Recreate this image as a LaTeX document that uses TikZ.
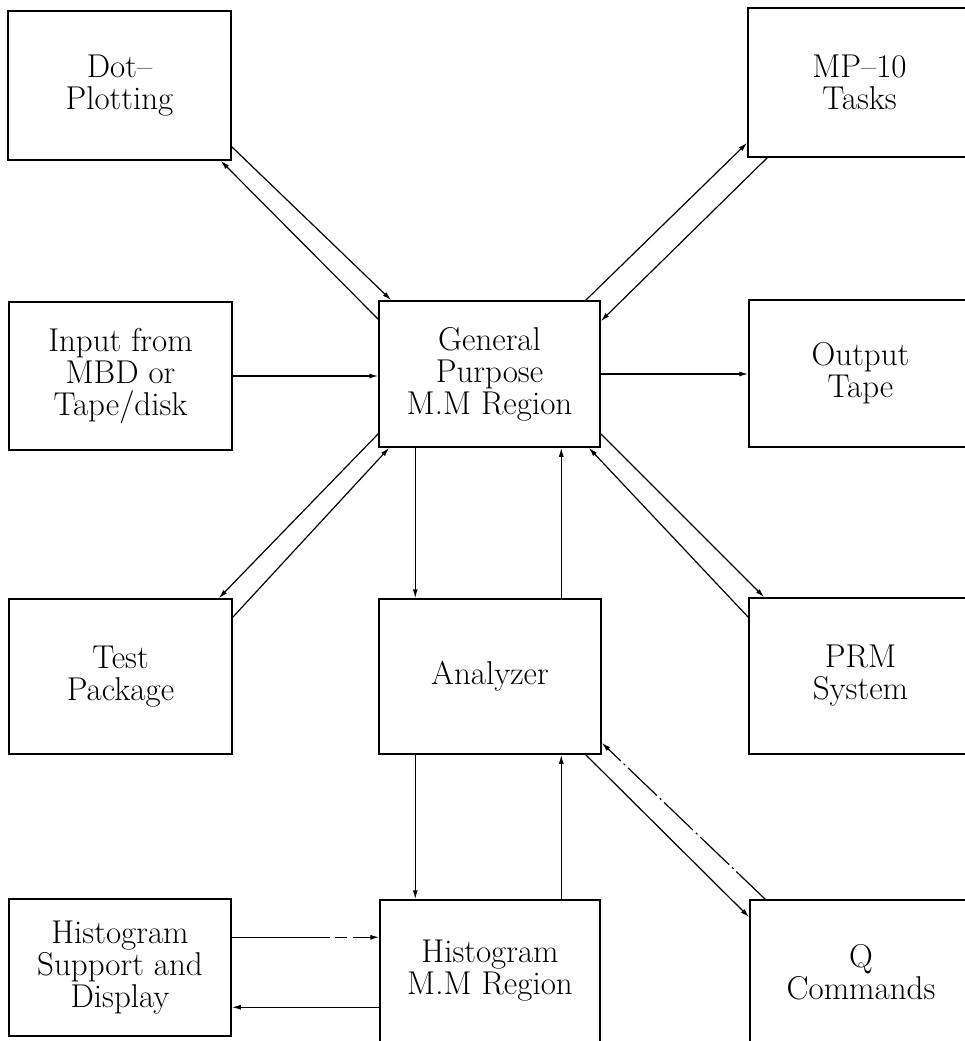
\documentclass[tikz,border=0pt]{standalone}
\usetikzlibrary{arrows.meta,calc}
\begin{document}
\begin{tikzpicture}[x=1pt,y=-1pt,
  box/.style={draw,line width=1.5pt,rectangle,inner sep=0pt,align=center,
    font=\fontsize{33}{32}\selectfont},
  arr/.style={line width=1.2pt,-{Latex[length=9pt,width=5pt]}},
  dashdot/.style={dash pattern=on 40pt off 4pt on 2pt off 4pt},
  partdash/.style={dash pattern=on 98pt off 5pt on 12pt off 6pt on 40pt}
]
\useasboundingbox (0,0) rectangle (965,1041);
\clip (0,0) rectangle (965,1041);

\node[box,minimum width=223pt,minimum height=149pt] (dot) at (119.5,85.5) {Dot--\\Plotting};
\node[box,minimum width=223pt,minimum height=149pt] (mp) at (859.5,82.5) {MP--10\\Tasks};
\node[box,minimum width=223pt,minimum height=148pt] (input) at (120.5,376) {Input from\\MBD or\\Tape/disk};
\node[box,minimum width=221pt,minimum height=146pt] (gp) at (489.5,374) {General\\Purpose\\M.M Region};
\node[box,minimum width=223pt,minimum height=147pt] (out) at (860.5,373.5) {Output\\Tape};
\node[box,minimum width=223pt,minimum height=155pt] (test) at (120.5,676.5) {Test\\Package};
\node[box,minimum width=222pt,minimum height=155pt] (ana) at (490,676.5) {Analyzer};
\node[box,minimum width=223pt,minimum height=156pt] (prm) at (860.5,676) {PRM\\System};
\node[box,minimum width=222pt,minimum height=137pt] (hsd) at (120,967.5) {Histogram\\Support and\\Display};
\node[box,minimum width=220pt,minimum height=142pt] (hmm) at (490,971) {Histogram\\M.M Region};
\node[box,minimum width=222pt,minimum height=144pt] (q) at (861,972) {Q\\Commands};

% Dot-Plotting <-> General Purpose
\draw[arr] ($(dot.south east)+(0,-14)$) -- ($(gp.north west)+(13,0)$);
\draw[arr] ($(gp.north west)+(0,19)$) -- ($(dot.south east)+(-11,0)$);
% General Purpose <-> MP-10
\draw[arr] ($(gp.north east)+(-15,0)$) -- ($(mp.south west)+(0,-15)$);
\draw[arr] ($(mp.south west)+(20,0)$) -- ($(gp.north east)+(0,21)$);
% Input -> GP -> Output
\draw[arr] (input.east) -- (input.east -| gp.west);
\draw[arr] (gp.east) -- (gp.east -| out.west);
% GP <-> Test
\draw[arr] ($(gp.south west)+(0,-14)$) -- ($(test.north east)+(-14,0)$);
\draw[arr] ($(test.north east)+(0,19)$) -- ($(gp.south west)+(11,0)$);
% GP <-> PRM
\draw[arr] ($(gp.south east)+(0,-14)$) -- ($(prm.north west)+(16,0)$);
\draw[arr] ($(prm.north west)+(0,20)$) -- ($(gp.south east)+(-12,0)$);
% GP <-> Analyzer
\coordinate (g1) at ($(gp.south west)+(37,0)$);
\coordinate (g2) at ($(gp.south west)+(183,0)$);
\draw[arr] (g1) -- (g1 |- ana.north);
\draw[arr] (g2 |- ana.north) -- (g2);
% Analyzer <-> Histogram M.M Region
\draw[arr] (g1 |- ana.south) -- (g1 |- hmm.north);
\draw[arr] (g2 |- hmm.north) -- (g2 |- ana.south);
% Analyzer <-> Q Commands
\draw[arr] ($(ana.south east)+(-16,0)$) -- ($(q.north west)+(0,18)$);
\draw[arr,dashdot] ($(q.north west)+(16,0)$) -- ($(ana.south east)+(0,-12)$);
% Histogram support <-> Histogram region
\coordinate (h1) at ($(hsd.north east)+(0,39)$);
\coordinate (h2) at ($(hsd.north east)+(0,109)$);
\draw[arr,partdash] (h1) -- (h1 -| hmm.west);
\draw[arr] (h2 -| hmm.west) -- (h2);
\end{tikzpicture}
\end{document}
